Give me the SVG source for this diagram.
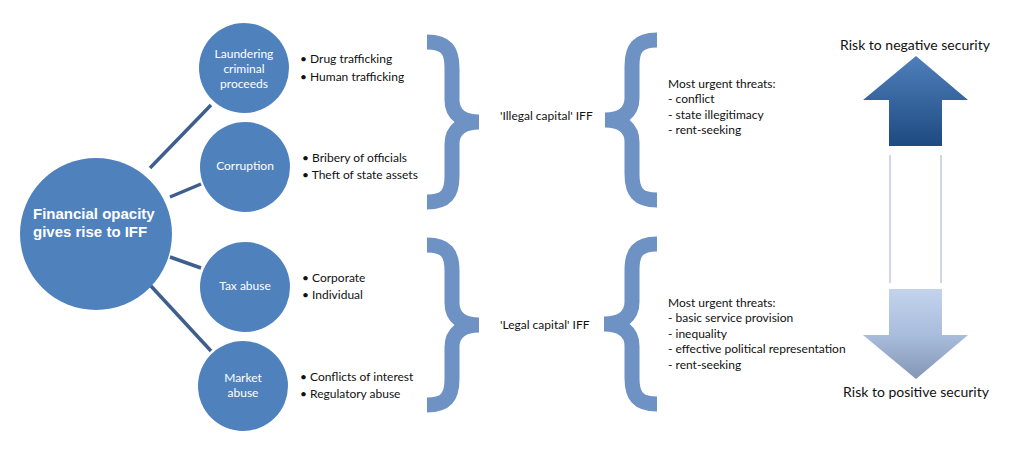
<svg xmlns="http://www.w3.org/2000/svg" width="1024" height="454" viewBox="0 0 1024 454">
<defs>
<linearGradient id="gUp" x1="0" y1="0" x2="0" y2="1">
<stop offset="0" stop-color="#4f7fbb"/>
<stop offset="1" stop-color="#1d4a80"/>
</linearGradient>
<linearGradient id="gDown" x1="0" y1="0" x2="0" y2="1">
<stop offset="0" stop-color="#c3d3ec"/>
<stop offset="0.5" stop-color="#a9bddd"/>
<stop offset="1" stop-color="#8396b6"/>
</linearGradient>
<style>
.node{fill:#4f81bd}
.conn{stroke:#3e5f8e;stroke-width:3.5;fill:none}
.brace{stroke:#6f92c4;stroke-width:15;fill:none;stroke-linejoin:bevel}
.ct{font-family:Lato,"Liberation Sans",sans-serif;font-size:12px;fill:#ffffff;text-anchor:middle}
.big{font-family:"Liberation Sans",Arial,sans-serif;font-size:15px;font-weight:bold;fill:#ffffff}
.t{font-family:Lato,"Liberation Sans",sans-serif;font-size:12px;fill:#111111}
.r{font-family:Lato,"Liberation Sans",sans-serif;font-size:14px;fill:#111111;text-anchor:middle}
</style>
</defs>
<rect width="1024" height="454" fill="#ffffff"/>
<g id="connectors">
<line class="conn" x1="150" y1="168" x2="211" y2="105"/>
<line class="conn" x1="170" y1="197" x2="201" y2="184"/>
<line class="conn" x1="170" y1="257" x2="201" y2="268"/>
<line class="conn" x1="150" y1="285" x2="211" y2="351"/>
</g>
<g id="node-financial">
<circle class="node" cx="96" cy="234" r="76"/>
<text class="big" x="33" y="219">Financial opacity</text>
<text class="big" x="33" y="237">gives rise to IFF</text>
</g>
<g id="node-laundering">
<circle class="node" cx="244" cy="68" r="45"/>
<text class="ct" x="244" y="58">Laundering</text>
<text class="ct" x="244" y="73">criminal</text>
<text class="ct" x="244" y="88">proceeds</text>
</g>
<g id="node-corruption">
<circle class="node" cx="245" cy="167" r="45"/>
<text class="ct" x="245" y="170">Corruption</text>
</g>
<g id="node-tax">
<circle class="node" cx="245" cy="287" r="45"/>
<text class="ct" x="245" y="290">Tax abuse</text>
</g>
<g id="node-market">
<circle class="node" cx="243" cy="386" r="45"/>
<text class="ct" x="243" y="382">Market</text>
<text class="ct" x="243" y="397">abuse</text>
</g>
<g id="bullets">
<text class="t" x="300" y="63">• Drug trafficking</text>
<text class="t" x="300" y="81">• Human trafficking</text>
<text class="t" x="302" y="162">• Bribery of officials</text>
<text class="t" x="302" y="179">• Theft of state assets</text>
<text class="t" x="302" y="282">• Corporate</text>
<text class="t" x="302" y="299">• Individual</text>
<text class="t" x="300" y="381">• Conflicts of interest</text>
<text class="t" x="300" y="398">• Regulatory abuse</text>
</g>
<g id="braces">
<path class="brace" d="M427,42 C446,42 452,50 452,68 L452,100 C452,114 462,122 479,122 C462,122 452,130 452,144 L452,176 C452,194 446,202 427,202"/>
<path class="brace" d="M657,40 C638,40 632,48 632,66 L632,98 C632,112 622,120 605,120 C622,120 632,128 632,142 L632,174 C632,192 638,200 657,200"/>
<path class="brace" d="M427,245 C446,245 452,253 452,271 L452,303 C452,317 462,325 479,325 C462,325 452,333 452,347 L452,379 C452,397 446,405 427,405"/>
<path class="brace" d="M657,244 C638,244 632,252 632,270 L632,302 C632,316 622,324 604,324 C622,324 632,332 632,346 L632,378 C632,396 638,404 657,404"/>
</g>
<g id="labels">
<text class="t" x="500" y="120">'Illegal capital' IFF</text>
<text class="t" x="500" y="329">'Legal capital' IFF</text>
<text class="t" x="668" y="88">Most urgent threats:</text>
<text class="t" x="668" y="103">- conflict</text>
<text class="t" x="668" y="119">- state illegitimacy</text>
<text class="t" x="668" y="134">- rent-seeking</text>
<text class="t" x="668" y="307">Most urgent threats:</text>
<text class="t" x="668" y="322">- basic service provision</text>
<text class="t" x="668" y="338">- inequality</text>
<text class="t" x="668" y="353">- effective political representation</text>
<text class="t" x="668" y="369">- rent-seeking</text>
</g>
<g id="scale">
<text class="r" x="915" y="50">Risk to negative security</text>
<path d="M916,56 L968,100 L942,100 L942,146 L889,146 L889,100 L863,100 Z" fill="url(#gUp)"/>
<line x1="890" y1="155" x2="890" y2="283" stroke="#a3aad9" stroke-width="1"/>
<line x1="941" y1="155" x2="941" y2="283" stroke="#a3aad9" stroke-width="1"/>
<path d="M889,289 L942,289 L942,335 L968,335 L916,379 L863,335 L889,335 Z" fill="url(#gDown)"/>
<text class="r" x="916" y="397">Risk to positive security</text>
</g>
</svg>
